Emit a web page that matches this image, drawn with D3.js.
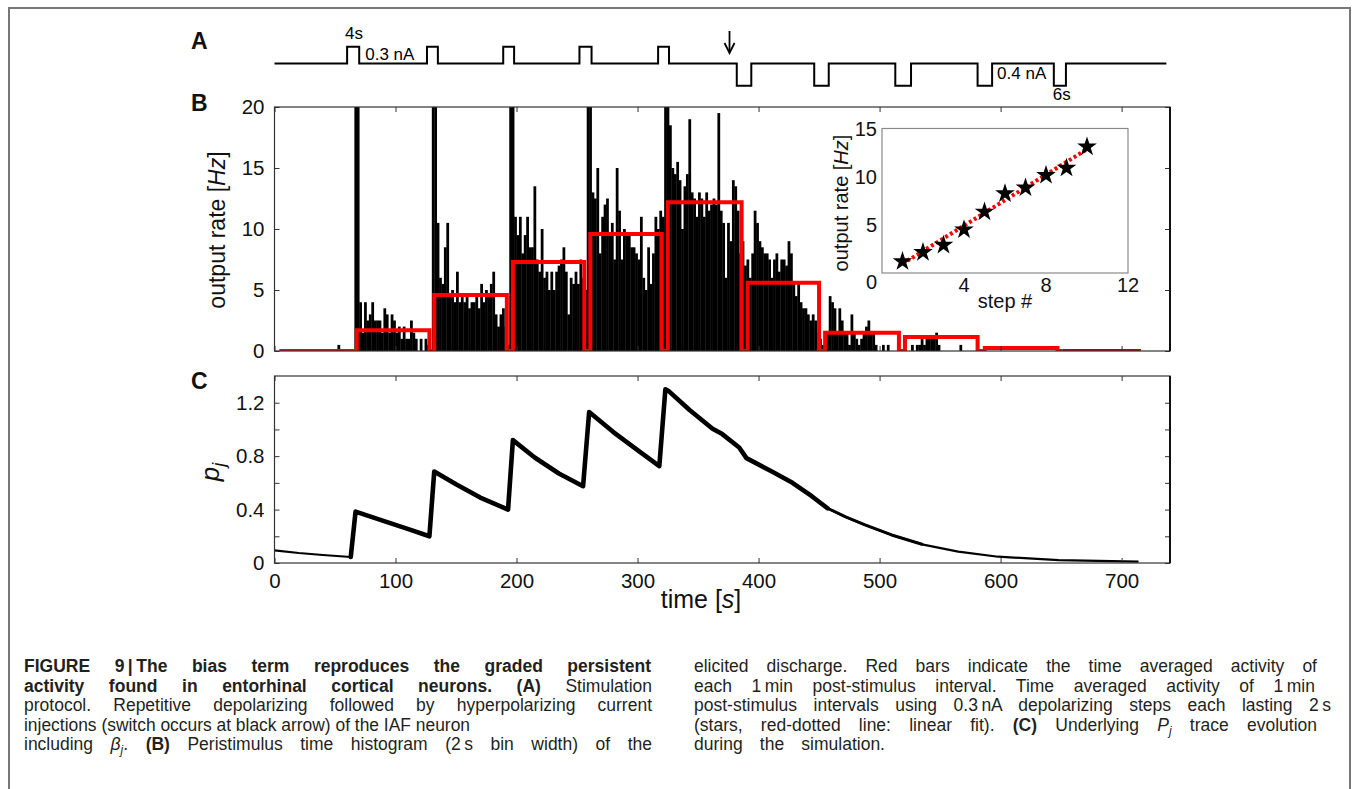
<!DOCTYPE html>
<html><head><meta charset="utf-8">
<script src="https://cdn.jsdelivr.net/npm/d3@7"></script>
<style>
html,body{margin:0;padding:0;background:#fff;}
svg{display:block;}
</style></head><body>
<svg id="fig" width="1355" height="789"></svg>
<script>
// ---------------- DATA ----------------
// Panel A: stimulation protocol (times in s, amplitude in nA)
const stimStart = [60, 126, 189, 252, 317, 382, 446, 513, 581, 644];
const stimEnd   = [70, 135, 198, 262, 326, 394, 458, 526, 593, 654];
const stimAmp   = [0.3, 0.3, 0.3, 0.3, 0.3, -0.4, -0.4, -0.4, -0.4, -0.4];
const traceEnd = 737;
const arrowTime = 376;

// Panel B: PSTH, 2 s bins starting at t = 0 (Hz); values above 20 are clipped by the axis
const histBinWidth = 2;
const histRates = [
  0,0,0,0,0,0,0,0,0,0,                          // 0-18
  0,0,0,0,0,0,0,0,0,0,                          // 20-38
  0,0,0,0,0,0,0.5,0,0,0,                        // 40-58
  0,0,0,30,30,4.0,1.5,4.0,2.5,3.0,              // 60-78
  4.0,2.5,2.5,2.5,1.5,3.5,3.0,1.5,3.0,2.5,      // 80-98
  1.5,2.0,1.0,2.0,1.0,1.0,2.5,1.5,1.0,0,        // 100-118
  1.0,0,1.0,0.5,0,30,30,10.5,6.0,5.5,           // 120-138
  8.5,10.5,4.5,5.0,4.0,6.5,4.0,4.5,4.0,4.5,     // 140-158
  3.5,4.0,4.0,4.5,3.5,5.5,4.0,5.0,4.5,5.5,      // 160-178
  6.5,3.0,2.0,3.0,3.5,2.0,0.5,30,30,11.0,       // 180-198
  9.5,11.0,8.0,9.5,11.0,8.5,8.5,13.5,7.5,6.5,   // 200-218
  10.0,6.0,6.5,5.0,6.5,5.0,6.5,7.0,7.5,8.5,     // 220-238
  6.5,3.0,6.0,5.5,6.5,5.5,7.5,6.0,5.0,30,       // 240-258
  30,13.0,12.5,15.0,8.0,11.0,12.0,12.5,9.5,10.5,// 260-278
  7.5,15.0,11.5,7.5,10.0,9.5,9.5,8.5,8.5,8.0,   // 280-298
  7.5,11.0,6.0,5.0,8.5,5.5,8.0,11.0,10.0,11.5,  // 300-318
  11.0,30,30,18.5,15.0,14.5,15.5,14.0,10.0,13.5,// 320-338
  14.5,19.0,13.0,12.5,11.0,13.0,12.5,11.0,13.0,11.5, // 340-358
  12.0,12.5,12.0,19.5,11.5,10.5,6.0,10.5,9.0,14.0,   // 360-378
  13.5,11.5,8.0,9.0,7.0,7.5,6.0,8.0,11.5,10.5,  // 380-398
  9.0,8.5,8.0,8.0,7.5,6.0,7.5,8.0,6.5,7.5,      // 400-418
  7.5,7.0,9.0,8.0,5.5,4.5,5.5,4.0,3.5,3.5,      // 420-438
  3.0,2.5,3.0,2.5,1.5,1.0,0.5,0,1.5,4.5,        // 440-458
  4.0,3.5,1.5,3.5,2.5,1.5,1.5,0.5,3.0,1.5,      // 460-478
  1.0,0.5,1.0,1.5,2.0,2.5,1.5,1.5,0.5,0,        // 480-498
  0,0.5,0,0.5,0,0,0,0,0,0,                      // 500-518
  0,0,0,0.5,0,0.5,0.5,1.0,0.5,1.0,              // 520-538
  1.0,1.0,1.0,1.5,0.5,0,0,0,0,0,                // 540-558
  0,0,0,0.5,0,0,0,0,0,0                         // 560-578
];

// Panel B: time-averaged rate of each 1-min post-stimulus interval (red bars)
const redStart = [4, 68, 132, 197, 261, 325, 391, 455, 521, 587, 651];
const redEnd   = [66, 128, 192, 256, 320, 386, 450, 516, 581, 647, 716];
const redLevel = [0, 1.7, 4.6, 7.3, 9.6, 12.2, 5.6, 1.5, 1.15, 0.25, 0];

// Inset: rate vs step number
const steps     = [1, 2, 3, 4, 5, 6, 7, 8, 9, 10];
const stepRates = [1.2, 2.15, 2.9, 4.5, 6.35, 8.25, 8.85, 10.15, 10.9, 13.1];
const fitStep = [1, 10];
const fitRate = [0.95, 12.85];
const insetXTicks = [4, 8, 12];
const insetYTicks = [5, 10, 15];

// Panel C: p_j trace
const pTime  = [0, 20, 40, 63, 67, 90, 110, 128, 132, 150, 170, 193, 197, 215, 235, 255, 260, 280, 300, 318,
                323, 326, 343, 362, 370, 384, 390, 411, 428, 444, 457, 472, 488, 510, 535, 565, 598, 648, 714];
const pValue = [0.095, 0.075, 0.06, 0.045, 0.385, 0.315, 0.255, 0.2, 0.685, 0.59, 0.49, 0.4, 0.92, 0.79, 0.67, 0.575,
                1.13, 0.98, 0.845, 0.725, 1.3, 1.285, 1.145, 1.005, 0.965, 0.865, 0.785, 0.685, 0.6, 0.5, 0.41,
                0.345, 0.285, 0.21, 0.14, 0.085, 0.047, 0.022, 0.01];

// Ticks
const timeTicks = [0, 100, 200, 300, 400, 500, 600, 700];
const rateTicks = [0, 5, 10, 15, 20];
const pTicks = [0, 0.2, 0.4, 0.6, 0.8, 1.0, 1.2];
const pTickLabels = ["0", "", "0.4", "", "0.8", "", "1.2"];

// ---------------- DRAWING ----------------
const FONT = "Arial, 'Liberation Sans', Helvetica, sans-serif";
const CAPFONT = "'Liberation Sans', Arial, sans-serif";
const svg = d3.select("#fig").attr("font-family", FONT);

// frame
svg.append("rect").attr("x", 9).attr("y", 8).attr("width", 1341).attr("height", 820)
  .attr("fill", "none").attr("stroke", "#777").attr("stroke-width", 2);

const xB = d3.scaleLinear().domain([0, 740]).range([274.5, 1170]);
const yB = d3.scaleLinear().domain([0, 20]).range([351, 107]);
const yC = d3.scaleLinear().domain([0, 1.4]).range([563, 376]);
const yA = d3.scaleLinear().domain([-0.4, 0.3]).range([85.7, 46.7]);

// panel letters
[["A", 49], ["B", 111], ["C", 389]].forEach(([l, y]) => {
  svg.append("text").attr("x", 191).attr("y", y).text(l)
    .attr("font-size", 23).attr("font-weight", "bold").attr("fill", "#111");
});

// ---------- Panel A ----------
const stimPts = [[0, 0]];
stimStart.forEach((s, i) => {
  stimPts.push([s, 0], [s, stimAmp[i]], [stimEnd[i], stimAmp[i]], [stimEnd[i], 0]);
});
stimPts.push([traceEnd, 0]);
svg.append("path")
  .attr("d", d3.line().x(d => xB(d[0])).y(d => yA(d[1]))(stimPts))
  .attr("fill", "none").attr("stroke", "#000").attr("stroke-width", 2);

const ax = xB(arrowTime);
svg.append("line").attr("x1", ax).attr("x2", ax).attr("y1", 31).attr("y2", 52)
  .attr("stroke", "#000").attr("stroke-width", 1.8);
svg.append("path").attr("d", `M${ax - 5},${43} L${ax},${53} L${ax + 5},${43}`)
  .attr("fill", "none").attr("stroke", "#000").attr("stroke-width", 1.8);

const aTxt = (x, y, t, anchor) => svg.append("text").attr("x", x).attr("y", y).text(t)
  .attr("font-size", 17).attr("text-anchor", anchor).attr("fill", "#000");
aTxt(xB(stimStart[0]) + 7, 39, "4s", "middle");
aTxt(xB(stimEnd[0]) + 6, 60, "0.3 nA", "start");
aTxt(xB(stimEnd[8]) + 5, 79, "0.4 nA", "start");
aTxt(xB(stimStart[9]) + 8, 100, "6s", "middle");

// ---------- Panel B ----------
svg.append("clipPath").attr("id", "clipB").append("rect")
  .attr("x", 274.5).attr("y", 107).attr("width", 1170 - 274.5).attr("height", 351 - 107);
const gB = svg.append("g").attr("clip-path", "url(#clipB)");

const histData = histRates.map((v, i) => ({ t: i * histBinWidth, v })).filter(d => d.v > 0);
gB.selectAll("rect.bar").data(histData).join("rect").attr("class", "bar")
  .attr("x", d => xB(d.t))
  .attr("width", d => xB(d.t + histBinWidth) - xB(d.t) + 0.35)
  .attr("y", d => yB(d.v))
  .attr("height", d => yB(0) - yB(d.v))
  .attr("fill", "#000");

// red average bars
const nRed = redStart.length;
const redPts = [];
for (let i = 0; i < nRed - 1; i++) {
  if (i > 0) redPts.push([redStart[i], 0]);
  redPts.push([redStart[i], redLevel[i]], [redEnd[i], redLevel[i]], [redEnd[i], 0]);
}
redPts.push([redStart[nRed - 1], 0]);
const lineB = d3.line().x(d => xB(d[0])).y(d => yB(d[1]));
gB.append("path").attr("d", lineB(redPts)).attr("fill", "none")
  .attr("stroke", "#ff0000").attr("stroke-width", 4).attr("stroke-linejoin", "miter");
gB.append("path").attr("d", lineB([[redStart[nRed - 1], redLevel[nRed - 1]], [redEnd[nRed - 1], redLevel[nRed - 1]]]))
  .attr("fill", "none").attr("stroke", "#c00000").attr("stroke-width", 4);

function frameAxes(yScale, yTickVals, yTickFmt, showX, top, bottom) {
  const g = svg.append("g").attr("font-family", FONT);
  g.append("g").attr("transform", `translate(274.5,0)`)
    .call(d3.axisLeft(yScale).tickValues(yTickVals).tickSize(-5).tickPadding(10).tickFormat(yTickFmt));
  g.append("g").attr("transform", `translate(1170,0)`)
    .call(d3.axisRight(yScale).tickValues(yTickVals).tickSize(-5).tickFormat(""));
  g.append("g").attr("transform", `translate(0,${top})`)
    .call(d3.axisTop(xB).tickValues(timeTicks).tickSize(-5).tickFormat(""));
  g.append("g").attr("transform", `translate(0,${bottom})`)
    .call(d3.axisBottom(xB).tickValues(timeTicks).tickSize(-5).tickPadding(10)
      .tickFormat(showX ? d3.format("d") : ""));
  g.selectAll(".domain").remove();
  g.selectAll(".tick line").attr("stroke", "#333");
  g.selectAll(".tick text").attr("font-size", 20.5).attr("fill", "#111").attr("font-family", FONT);
  g.append("rect").attr("x", 274.5).attr("y", top).attr("width", 1170 - 274.5).attr("height", bottom - top)
    .attr("fill", "none").attr("stroke", "#333").attr("stroke-width", 1.2);
  g.append("line").attr("x1", 1170).attr("x2", 1170).attr("y1", top).attr("y2", bottom)
    .attr("stroke", "#111").attr("stroke-width", 2);
  return g;
}
frameAxes(yB, rateTicks, d3.format("d"), false, 107, 351);

const ylB = svg.append("text").attr("transform", "translate(225,230) rotate(-90)")
  .attr("text-anchor", "middle").attr("font-size", 23).attr("fill", "#111");
ylB.append("tspan").text("output rate [");
ylB.append("tspan").text("Hz").attr("font-style", "italic");
ylB.append("tspan").text("]");

// ---------- Inset ----------
const xI = d3.scaleLinear().domain([0, 12]).range([882, 1128]);
const yI = d3.scaleLinear().domain([0, 15]).range([273, 128.5]);
svg.append("rect").attr("x", 882).attr("y", 128.5).attr("width", 1128 - 882).attr("height", 273 - 128.5)
  .attr("fill", "#fff").attr("stroke", "#8a8a8a").attr("stroke-width", 1.2);
svg.append("path")
  .attr("d", d3.line().x(d => xI(d[0])).y(d => yI(d[1]))(fitStep.map((s, i) => [s, fitRate[i]])))
  .attr("stroke", "#ff0000").attr("stroke-width", 4).attr("stroke-dasharray", "3,2.6").attr("fill", "none");
svg.selectAll("path.star").data(steps.map((s, i) => [s, stepRates[i]])).join("path").attr("class", "star")
  .attr("d", d3.symbol(d3.symbolStar, 120))
  .attr("transform", d => `translate(${xI(d[0])},${yI(d[1])})`)
  .attr("fill", "#000");
const gI = svg.append("g").attr("font-size", 20).attr("fill", "#111");
insetYTicks.forEach(v => gI.append("text").attr("x", 877).attr("y", yI(v)).attr("dy", "0.35em")
  .attr("text-anchor", "end").text(v));
gI.append("text").attr("x", 877).attr("y", 282).attr("dy", "0.35em").attr("text-anchor", "end").text("0");
insetXTicks.forEach(v => gI.append("text").attr("x", xI(v)).attr("y", 285).attr("dy", "0.35em")
  .attr("text-anchor", "middle").text(v));
gI.append("text").attr("x", 1005).attr("y", 308).attr("text-anchor", "middle").text("step #");
const ylI = gI.append("text").attr("transform", "translate(848,203) rotate(-90)").attr("text-anchor", "middle");
ylI.append("tspan").text("output rate [");
ylI.append("tspan").text("Hz").attr("font-style", "italic");
ylI.append("tspan").text("]");

// ---------- Panel C ----------
const pts = pTime.map((t, i) => [t, pValue[i]]);
const lineC = d3.line().x(d => xB(d[0])).y(d => yC(d[1]));
svg.append("path").attr("d", lineC(pts)).attr("fill", "none").attr("stroke", "#000")
  .attr("stroke-width", 2.2).attr("stroke-linejoin", "round");
svg.append("path").attr("d", lineC(pts.slice(3, 31))).attr("fill", "none").attr("stroke", "#000")
  .attr("stroke-width", 4.6).attr("stroke-linejoin", "round").attr("stroke-linecap", "round");
svg.append("path").attr("d", lineC(pts.slice(30, 35))).attr("fill", "none").attr("stroke", "#000")
  .attr("stroke-width", 3).attr("stroke-linejoin", "round").attr("stroke-linecap", "round");

frameAxes(yC, pTicks, (d, i) => pTickLabels[i], true, 376, 563);

const ylC = svg.append("text").attr("transform", "translate(219,472) rotate(-90)")
  .attr("text-anchor", "middle").attr("font-size", 26).attr("font-style", "italic").attr("fill", "#111");
ylC.append("tspan").text("p");
ylC.append("tspan").text("j").attr("font-size", 18).attr("dy", 6);

const xlC = svg.append("text").attr("x", 701).attr("y", 608).attr("text-anchor", "middle")
  .attr("font-size", 25).attr("fill", "#111");
xlC.append("tspan").text("time [");
xlC.append("tspan").text("s").attr("font-style", "italic");
xlC.append("tspan").text("]");

// ---------- Caption ----------
function capLine(x, y, endX, parts) {
  const t = svg.append("text").attr("x", x).attr("y", y).attr("font-family", CAPFONT)
    .attr("font-size", 17.5).attr("fill", "#231f20");
  let full = "";
  parts.forEach(p => {
    const ts = t.append("tspan").text(p.t);
    full += p.t;
    if (p.b) ts.attr("font-weight", "bold");
    if (p.i) ts.attr("font-style", "italic");
    if (p.sub) ts.attr("font-size", 12).attr("dy", 4);
    if (p.up) ts.attr("dy", -4);
  });
  const len = t.node().getComputedTextLength();
  const nsp = (full.match(/ /g) || []).length;
  const extra = endX - x - len;
  if (extra >= 0 && nsp > 0) t.attr("word-spacing", extra / nsp);
  else if (extra < 0) t.attr("textLength", endX - x).attr("lengthAdjust", "spacingAndGlyphs");
}
const L = 24, R = 694;
capLine(L, 672, 651, [{ t: "FIGURE 9\u2009|\u2009The bias term reproduces the graded persistent", b: true }]);
capLine(L, 691.5, 652, [{ t: "activity found in entorhinal cortical neurons. (A)", b: true }, { t: " Stimulation" }]);
capLine(L, 711, 652, [{ t: "protocol. Repetitive depolarizing followed by hyperpolarizing current" }]);
capLine(L, 730.5, 470, [{ t: "injections (switch occurs at black arrow) of the IAF neuron" }]);
capLine(L, 750, 652, [{ t: "including " }, { t: "β", i: true }, { t: "j", i: true, sub: true }, { t: ". ", up: true },
  { t: "(B)", b: true }, { t: " Peristimulus time histogram (2\u2009s bin width) of the" }]);

capLine(R, 672, 1317, [{ t: "elicited discharge. Red bars indicate the time averaged activity of" }]);
capLine(R, 691.5, 1315, [{ t: "each 1\u2009min post-stimulus interval. Time averaged activity of 1\u2009min" }]);
capLine(R, 711, 1331, [{ t: "post-stimulus intervals using 0.3\u2009nA depolarizing steps each lasting 2\u2009s" }]);
capLine(R, 730.5, 1317, [{ t: "(stars, red-dotted line: linear fit). " }, { t: "(C)", b: true }, { t: " Underlying " },
  { t: "P", i: true }, { t: "j", i: true, sub: true }, { t: " trace evolution", up: true }]);
capLine(R, 750, 885, [{ t: "during the simulation." }]);
</script>
</body></html>
